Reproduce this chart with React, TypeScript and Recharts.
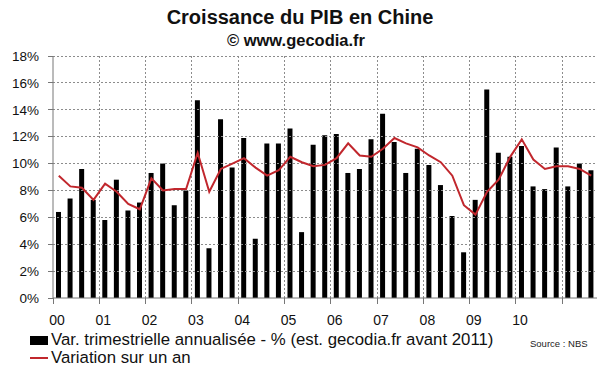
import { BarChart, Bar, Line, XAxis, YAxis, ReferenceLine } from "recharts";

// quarters 2000Q1 .. 2011Q3
const quarters: string[] = [];
for (let y = 0; y <= 11; y++) {
  for (let q = 1; q <= 4; q++) {
    if (y === 11 && q === 4) break;
    quarters.push(`${String(y).padStart(2, "0")}Q${q}`);
  }
}

const qoqAnnualised = [
  6.4, 7.4, 9.6, 7.3, 5.8, 8.8, 6.5, 7.1, 9.3, 10.0, 6.9, 8.0,
  14.7, 3.7, 13.3, 9.7, 11.9, 4.4, 11.5, 11.5, 12.6, 4.9, 11.4, 12.1,
  12.2, 9.3, 9.6, 11.8, 13.7, 11.6, 9.3, 11.1, 9.9, 8.4, 6.1, 3.4,
  7.3, 15.5, 10.8, 10.5, 11.3, 8.3, 8.1, 11.2, 8.3, 10.0, 9.5,
];

const yoy = [
  9.1, 8.3, 8.2, 7.3, 8.5, 7.9, 7.0, 6.6, 8.9, 8.0, 8.1, 8.1,
  10.8, 7.9, 9.6, 10.0, 10.4, 9.7, 9.1, 9.5, 10.5, 10.1, 9.8, 9.9,
  10.4, 11.5, 10.6, 10.5, 11.1, 11.9, 11.5, 11.2, 10.6, 10.1, 9.1, 6.9,
  6.2, 7.9, 8.8, 10.5, 11.8, 10.3, 9.6, 9.8, 9.8, 9.6, 9.1,
];

const yTicks = [0, 2, 4, 6, 8, 10, 12, 14, 16, 18];
// x axis is quarter count from 2000Q1; ticks at each new year
const yearTicks = [0, 4, 8, 12, 16, 20, 24, 28, 32, 36, 40, 44];
// 2011 has no label in the original
const yearLabels = ["00", "01", "02", "03", "04", "05", "06", "07", "08", "09", "10", ""];

const data = quarters.map((q, i) => ({
  q,
  pos: i + 0.5, // middle of the quarter
  qoq: qoqAnnualised[i],
  yoy: yoy[i],
}));

const RED = "#c1272d";
const GRID = "#8c8c8c";

// tick mark drawn together with the label
function XTick(props: any) {
  const { x, y, payload } = props;
  const label = yearLabels[yearTicks.indexOf(payload.value)];
  return (
    <g>
      <line x1={x} x2={x} y1={y - 17} y2={y - 11} stroke="#777" shapeRendering="crispEdges" />
      <text x={x + 4} y={y} dy="0.71em" textAnchor="middle" fontSize={14} fill="#111">
        {label}
      </text>
    </g>
  );
}

function YTick(props: any) {
  const { x, y, payload } = props;
  return (
    <g>
      <line x1={x + 9} x2={x + 14} y1={y} y2={y} stroke="#777" shapeRendering="crispEdges" />
      <text x={x} y={y} dy="0.355em" textAnchor="end" fontSize={13.5} fill="#111">
        {`${payload.value}%`}
      </text>
    </g>
  );
}

function LegendBox() {
  return (
    <div style={{ position: "absolute", left: 0, top: 331, width: 600, color: "#111" }}>
      <div style={{ display: "flex", alignItems: "center", height: 18, fontSize: 16.8 }}>
        <span style={{ display: "inline-block", width: 18, height: 9, background: "#000", marginLeft: 30, marginRight: 3 }} />
        <span>Var. trimestrielle annualisée - % (est. gecodia.fr avant 2011)</span>
      </div>
      <div style={{ display: "flex", alignItems: "center", height: 18, fontSize: 16.8 }}>
        <span style={{ display: "inline-block", width: 18, height: 2, background: RED, marginLeft: 30, marginRight: 3 }} />
        <span>Variation sur un an</span>
      </div>
      <div style={{ position: "absolute", left: 530, top: 7, fontSize: 9.5, color: "#222" }}>Source : NBS</div>
    </div>
  );
}

export default function App() {
  return (
    <div
      style={{
        position: "absolute",
        left: 0,
        top: 0,
        width: 600,
        height: 372,
        background: "#fff",
        fontFamily: "Liberation Sans, Arial, sans-serif",
      }}
    >
      <div style={{ position: "absolute", top: 6, width: 600, textAlign: "center", fontWeight: "bold", fontSize: 20, color: "#111" }}>
        Croissance du PIB en Chine
      </div>
      <div style={{ position: "absolute", top: 31, left: -4, width: 600, textAlign: "center", fontWeight: "bold", fontSize: 16.5, color: "#111" }}>
        © www.gecodia.fr
      </div>
      <BarChart
        width={600}
        height={372}
        data={data}
        margin={{ top: 56, right: 3, left: 0, bottom: 44 }}
      >
        {yTicks.slice(1).map((v) => (
          <ReferenceLine key={`h${v}`} y={v} stroke={GRID} strokeDasharray="2 2" shapeRendering="crispEdges" />
        ))}
        {yearTicks.slice(1).map((v) => (
          <ReferenceLine key={`v${v}`} x={v} stroke={GRID} strokeDasharray="2 2" shapeRendering="crispEdges" />
        ))}
        <XAxis
          dataKey="pos"
          type="number"
          domain={[0, quarters.length]}
          ticks={yearTicks}
          interval={0}
          tickSize={6}
          tickMargin={11}
          height={30}
          axisLine={{ stroke: "#777" }}
          tickLine={false}
          tick={<XTick />}
        />
        <YAxis
          domain={[0, 18]}
          ticks={yTicks}
          width={53}
          tickSize={5}
          tickMargin={9}
          axisLine={{ stroke: "#777" }}
          tickLine={false}
          tick={<YTick />}
        />
        <Bar dataKey="qoq" fill="#000" barSize={5} isAnimationActive={false} />
        <Line dataKey="yoy" stroke={RED} strokeWidth={2} dot={false} isAnimationActive={false} />
      </BarChart>
      <LegendBox />
    </div>
  );
}
